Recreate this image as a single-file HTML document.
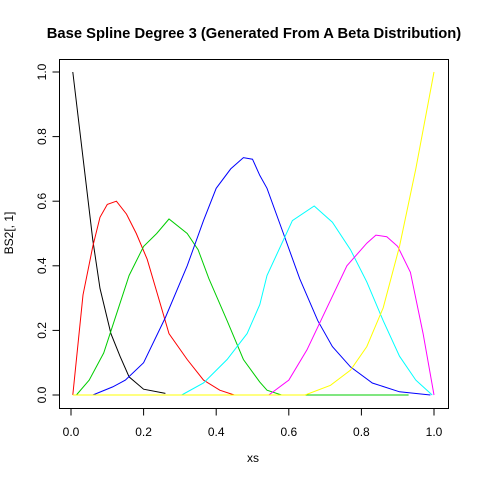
<!DOCTYPE html>
<html><head><meta charset="utf-8"><style>
body{margin:0;background:#fff}
svg text{font-family:"Liberation Sans",Arial,sans-serif;font-size:12px;fill:#000}
</style></head><body>
<svg id="chart" width="480" height="480" xmlns="http://www.w3.org/2000/svg">
<rect width="480" height="480" fill="#fff"/>
<text x="254" y="38" text-anchor="middle" style="font-weight:bold;font-size:14.75px">Base Spline Degree 3 (Generated From A Beta Distribution)</text>
<rect x="59.5" y="59.5" width="389" height="349" fill="none" stroke="#000"/>
<text x="253" y="462" text-anchor="middle">xs</text>
<text transform="translate(13,233) rotate(-90)" text-anchor="middle">BS2[, 1]</text>
<g id="axes"></g>
<g id="series"></g>
</svg>
<script>
const xTicks=[0,0.2,0.4,0.6,0.8,1.0];
const xTickLabels=["0.0","0.2","0.4","0.6","0.8","1.0"];
const yTicks=[0,0.2,0.4,0.6,0.8,1.0];
const yTickLabels=["0.0","0.2","0.4","0.6","0.8","1.0"];
const seriesColors=["#000000","#ff0000","#00cd00","#0000ff","#00ffff","#ff00ff","#ffff00"];
const blackX=[0.005,0.06,0.08,0.11,0.135,0.16,0.2,0.26];
const blackY=[1.0,0.48,0.33,0.19,0.12,0.056,0.018,0.005];
const redX=[0.005,0.033,0.06,0.08,0.10,0.125,0.153,0.18,0.21,0.236,0.27,0.32,0.365,0.41,0.45];
const redY=[0,0.31,0.46,0.55,0.59,0.60,0.56,0.50,0.42,0.32,0.19,0.11,0.046,0.015,0];
const greenX=[0.015,0.05,0.09,0.125,0.16,0.2,0.236,0.27,0.32,0.35,0.38,0.43,0.475,0.52,0.54,0.58,0.93];
const greenY=[0,0.046,0.13,0.25,0.37,0.46,0.50,0.545,0.50,0.45,0.36,0.23,0.11,0.04,0.015,0,0];
const blueX=[0.06,0.115,0.15,0.2,0.26,0.32,0.365,0.4,0.44,0.475,0.5,0.52,0.54,0.585,0.63,0.68,0.72,0.77,0.83,0.905,0.99];
const blueY=[0,0.025,0.046,0.1,0.24,0.4,0.54,0.64,0.70,0.735,0.73,0.68,0.64,0.50,0.36,0.23,0.15,0.087,0.037,0.01,0];
const cyanX=[0.305,0.365,0.43,0.485,0.52,0.54,0.61,0.67,0.72,0.77,0.815,0.86,0.905,0.95,0.995];
const cyanY=[0,0.037,0.11,0.19,0.28,0.37,0.54,0.585,0.535,0.45,0.35,0.23,0.12,0.046,0];
const magentaX=[0.545,0.6,0.65,0.705,0.76,0.815,0.84,0.87,0.9,0.935,0.97,1.0];
const magentaY=[0,0.046,0.14,0.27,0.40,0.47,0.495,0.49,0.46,0.38,0.19,0];
const yellowX=[0.005,0.645,0.715,0.77,0.815,0.86,0.905,0.95,1.0];
const yellowY=[0,0,0.03,0.077,0.15,0.27,0.46,0.70,1.0];
const seriesNames=["basis-1","basis-2","basis-3","basis-4","basis-5","basis-6","basis-7"];
const allX=[blackX,redX,greenX,blueX,cyanX,magentaX,yellowX];
const allY=[blackY,redY,greenY,blueY,cyanY,magentaY,yellowY];

const NS="http://www.w3.org/2000/svg";
const sx=v=>71+363*v;
const sy=v=>395-323*v;
const axes=document.getElementById('axes');
function mk(tag,attrs,parent){const e=document.createElementNS(NS,tag);for(const k in attrs)e.setAttribute(k,attrs[k]);parent.appendChild(e);return e;}
mk('line',{x1:sx(0),x2:sx(1),y1:408.5,y2:408.5,stroke:'#000'},axes);
xTicks.forEach((t,i)=>{
  const l=mk('line',{x1:sx(t),x2:sx(t),y1:408.5,y2:415.5,stroke:'#000'},axes);
  
  
  const tx=mk('text',{x:sx(t),y:436,'text-anchor':'middle'},axes);
  tx.textContent=xTickLabels[i];
  
  
});
mk('line',{x1:59.5,x2:59.5,y1:sy(0),y2:sy(1),stroke:'#000'},axes);
yTicks.forEach((t,i)=>{
  const l=mk('line',{x1:52.5,x2:59.5,y1:sy(t),y2:sy(t),stroke:'#000'},axes);
  
  
  const tx=mk('text',{transform:`translate(46,${sy(t)}) rotate(-90)`,'text-anchor':'middle'},axes);
  tx.textContent=yTickLabels[i];
  
  
});
const sg=document.getElementById('series');
allX.forEach((xs,i)=>{
  const pts=xs.map((x,j)=>sx(x).toFixed(1)+','+sy(allY[i][j]).toFixed(1)).join(' ');
  const p=mk('polyline',{points:pts,fill:'none',stroke:seriesColors[i],'stroke-width':1},sg);
  
  
});
</script>
</body></html>
